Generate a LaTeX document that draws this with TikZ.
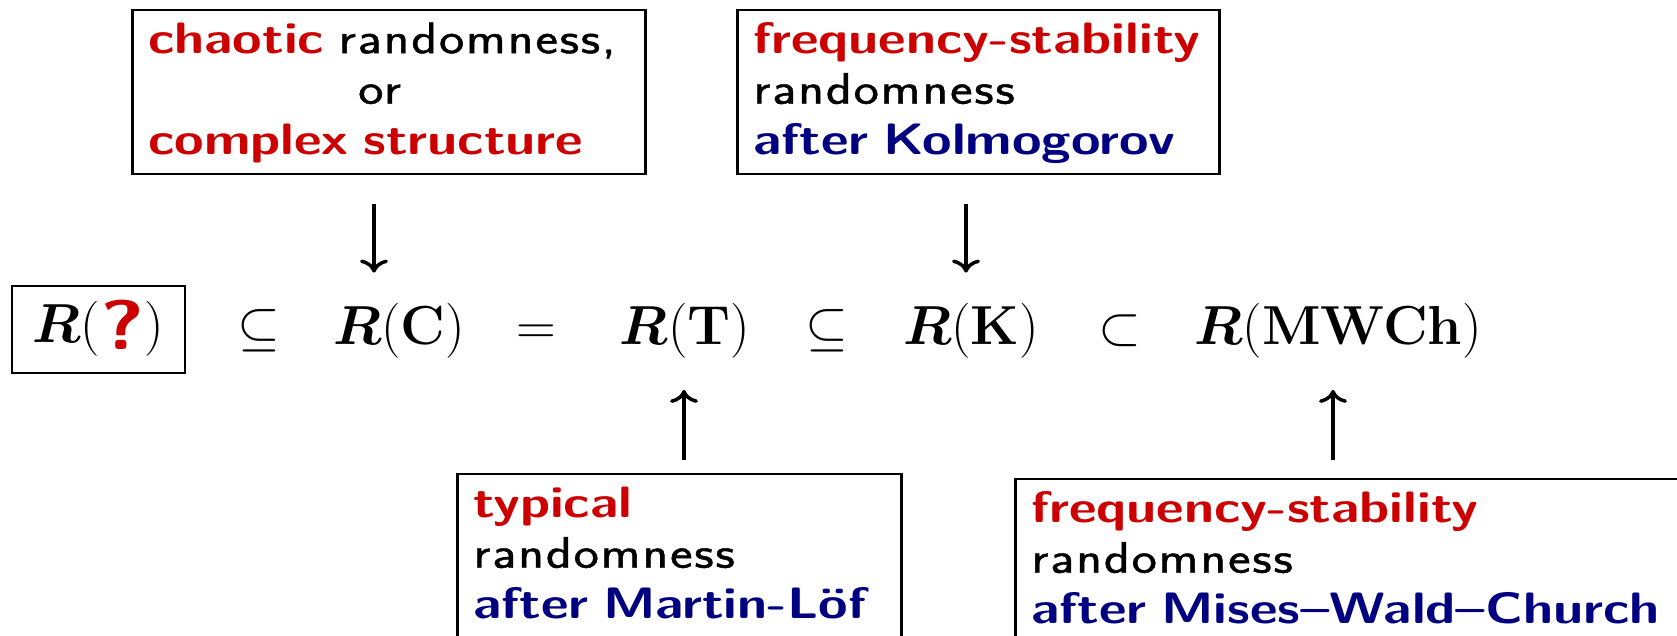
\RequirePackage{fix-cm}
\documentclass[tikz,border=0pt]{standalone}
\usepackage{amsmath,bm}
\usepackage[no-math]{fontspec}
\setmainfont{Latin Modern Sans}[FakeStretch=1.22, WordSpace=1.3,
  UprightFeatures={LetterSpace=4,FakeBold=1}]
\usetikzlibrary{arrows.meta}
\definecolor{myred}{RGB}{204,0,0}
\definecolor{myblue}{RGB}{0,0,128}
\newcommand{\rd}[1]{\textcolor{myred}{\bfseries\mbox{#1}}}
\newcommand{\bl}[1]{\textcolor{myblue}{\bfseries\mbox{#1}}}
\begin{document}
\begin{tikzpicture}[x=1pt,y=1pt,
  infobox/.style={draw, line width=2.5pt, anchor=north west, align=left,
    inner xsep=16pt, inner ysep=14pt, text height=29pt, text depth=107pt,
    font=\fontsize{44}{50.5}\selectfont},
  mth/.style={inner sep=0pt, anchor=base, font=\fontsize{55}{60}\selectfont},
  arr/.style={line width=3.5pt, -{Computer Modern Rightarrow[width=28pt,length=13pt]}}]
\useasboundingbox (0,0) rectangle (1677,636);
% formula line
\node[draw, line width=2.5pt, minimum width=173pt, minimum height=87pt, inner sep=0pt,
  text height=41pt, text depth=14pt, font=\fontsize{55}{60}\selectfont] (Rq) at (98.5,306.5)
  {$\boldsymbol{R}($\raisebox{-7pt}{\textcolor{myred}{\fontsize{70}{70}\selectfont\bfseries ?}}$)$};
\node[mth] (s1) at (258.5,291) {$\subseteq$};
\node[mth] (RC) at (399,291) {$\boldsymbol{R}(\mathbf{C})$};
\node[mth] (eq) at (536,291) {$=$};
\node[mth] (RT) at (685,291) {$\boldsymbol{R}(\mathbf{T})$};
\node[mth] (s2) at (827,291) {$\subseteq$};
\node[mth] (RK) at (971,291) {$\boldsymbol{R}(\mathbf{K})$};
\node[mth] (s3) at (1120,291) {$\subset$};
\node[mth] (RM) at (1338,291) {$\boldsymbol{R}(\mathbf{MWCh})$};
% boxes
\node[infobox, text width=481pt] (b1) at (131,627)
  {\rd{chaotic} randomness,\\ \hspace*{210pt}or\\ \rd{complex structure}};
\node[infobox, text width=450pt] (b2) at (736,627)
  {\rd{frequency-stability}\\ randomness\\ \bl{after Kolmogorov}};
\node[infobox, text width=412pt] (b3) at (456,163)
  {\rd{typical}\\ randomness\\ \bl{after Martin-Löf}};
\node[infobox, text width=668pt] (b4) at (1014,158)
  {\rd{frequency-stability}\\ randomness\\ \bl{after Mises–Wald–Church}};
% arrow columns
\coordinate (x1) at (374,0);
\coordinate (x2) at (966,0);
\coordinate (x3) at (684,0);
\coordinate (x4) at (1333,0);
\draw[arr, shorten <=29pt, shorten >=31pt] (b1.south -| x1) -- (RC.north -| x1);
\draw[arr, shorten <=29pt, shorten >=31pt] (b2.south -| x2) -- (RK.north -| x2);
\draw[arr, shorten <=13pt, shorten >=31pt] (b3.north -| x3) -- (RT.south -| x3);
\draw[arr, shorten <=18pt, shorten >=31pt] (b4.north -| x4) -- (RM.south -| x4);
\end{tikzpicture}
\end{document}
